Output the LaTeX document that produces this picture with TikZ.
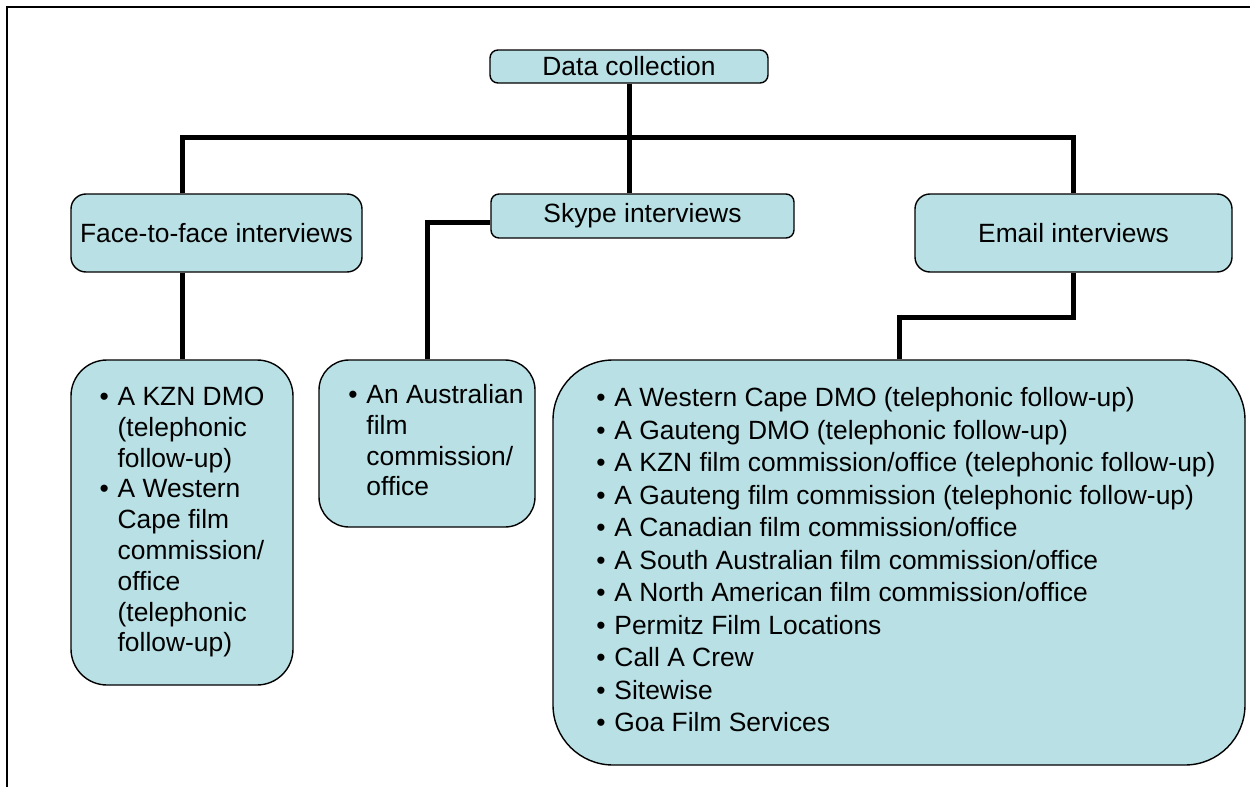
\documentclass[tikz,border=0pt]{standalone}
\usepackage{fontspec}
\setmainfont{Liberation Sans}
\usepackage{xcolor}
\usepackage{tikz}
\definecolor{paleteal}{RGB}{185,224,228}
\newcommand{\bul}{\makebox[9pt][l]{\textbullet}}

\begin{document}
\begin{tikzpicture}[
      x=0.5pt,y=-0.5pt,
      hdr/.style={draw,line width=0.7pt,fill=paleteal,align=center,inner sep=0pt,
        font=\fontsize{13.2}{15.4}\selectfont},
      lst/.style={draw,line width=0.7pt,fill=paleteal,align=left,inner sep=0pt},
      link/.style={line width=2.5pt},
      frame/.style={line width=1.3pt}
    ]
      \useasboundingbox (0,0) rectangle (1250,787);
      \draw[frame] (7,787) -- (7,7) -- (1250,7);

      % Top and methods
      \node[hdr,rounded corners=4pt,minimum width=139pt,minimum height=16.5pt] (top) at (629,66.5) {Data collection};
      \node[hdr,rounded corners=7.5pt,minimum width=145.5pt,minimum height=39pt] (face) at (216.5,233) {Face-to-face interviews};
      \node[hdr,rounded corners=4pt,minimum width=151.5pt,minimum height=22pt] (skype) at (642.5,216) {Skype interviews};
      \node[hdr,rounded corners=7.5pt,minimum width=158.5pt,minimum height=39pt] (email) at (1073.5,233) {Email interviews};

      % Respondents
      \node[lst,rounded corners=18pt,minimum width=111pt,minimum height=162.5pt,
        font=\fontsize{13.2}{15.4}\selectfont] (kzn) at (182,522.5) {%
        \begin{tabular}{@{}l@{}l@{}}
          \bul & A KZN DMO\\
               & (telephonic\\
               & follow-up)\\
          \bul & A Western\\
               & Cape film\\
               & commission/\\
               & office\\
               & (telephonic\\
               & follow-up)
        \end{tabular}};
      \node[lst,rounded corners=15pt,minimum width=108pt,minimum height=83.5pt,
        font=\fontsize{13.2}{15.4}\selectfont] (aus) at (427,443.5) {%
        \begin{tabular}{@{\hspace{9pt}}l@{}l@{}}
          \bul & An Australian\\
               & film\\
               & commission/\\
               & office
        \end{tabular}};
      \node[lst,rounded corners=30pt,minimum width=346pt,minimum height=202.5pt,
        font=\fontsize{13.2}{16.25}\selectfont] (elist) at (899,562.5) {%
        \begin{tabular}{@{\hspace{7pt}}l@{}l@{}}
          \bul & A Western Cape DMO (telephonic follow-up)\\
          \bul & A Gauteng DMO (telephonic follow-up)\\
          \bul & A KZN film commission/office (telephonic follow-up)\\
          \bul & A Gauteng film commission (telephonic follow-up)\\
          \bul & A Canadian film commission/office\\
          \bul & A South Australian film commission/office\\
          \bul & A North American film commission/office\\
          \bul & Permitz Film Locations\\
          \bul & Call A Crew\\
          \bul & Sitewise\\
          \bul & Goa Film Services
        \end{tabular}};

      % Tree lines
      \coordinate (hub) at (top.south |- 0,137);
      \draw[link] (top.south) -- (hub);
      \draw[link] (hub) -- (hub |- skype.north);
      \draw[link] (kzn.north |- face.north) |- (hub) -| (email.north);
      \draw[link] (kzn.north |- face.south) -- (kzn.north);
      \draw[link] ([yshift=-3pt]skype.west) -| (aus.north);
      \draw[link] (email.south) -- ++(0,45) -| (elist.north);
    \end{tikzpicture}
\end{document}
